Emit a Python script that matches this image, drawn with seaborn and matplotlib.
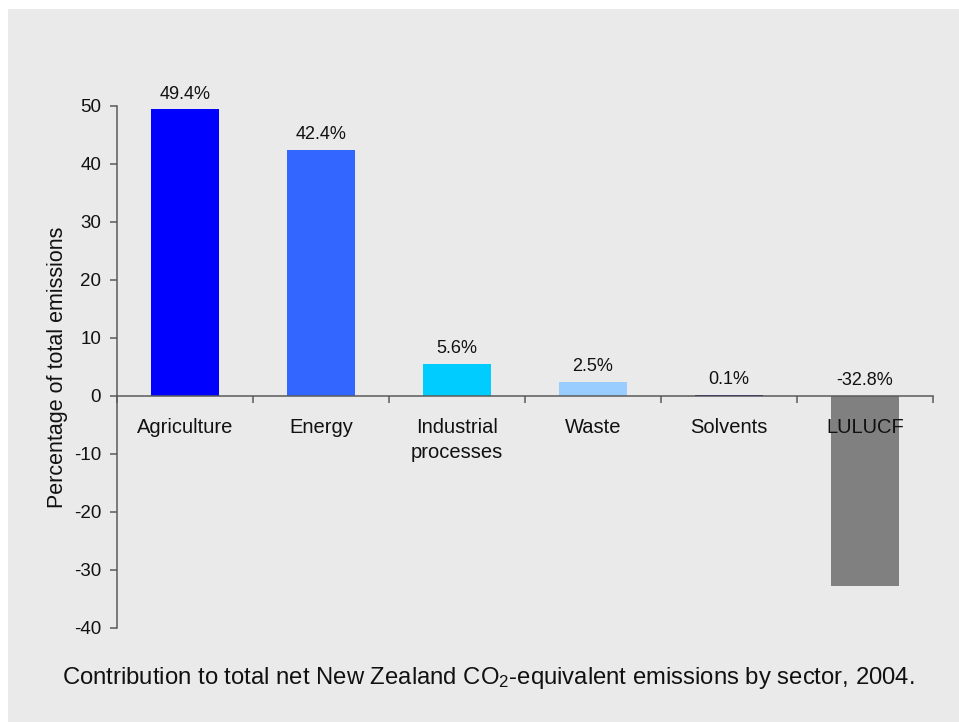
import matplotlib
matplotlib.use('Agg')
import matplotlib.pyplot as plt
import seaborn as sns
from matplotlib.patches import Rectangle

# Data
sectors = ['Agriculture', 'Energy', 'Industrial\nprocesses', 'Waste', 'Solvents', 'LULUCF']
shares = [49.4, 42.4, 5.6, 2.5, 0.1, -32.8]
share_labels = ['49.4%', '42.4%', '5.6%', '2.5%', '0.1%', '-32.8%']
bar_colors = ['#0000ff', '#3366ff', '#00ccff', '#99ccff', '#000080', '#808080']
y_ticks = [-40, -30, -20, -10, 0, 10, 20, 30, 40, 50]

sns.set_style('white')
plt.rcParams['font.family'] = ['Liberation Sans', 'DejaVu Sans']
plt.rcParams['mathtext.fontset'] = 'custom'
plt.rcParams['mathtext.rm'] = 'Liberation Sans'
plt.rcParams['mathtext.it'] = 'Liberation Sans:italic'
plt.rcParams['axes.unicode_minus'] = False

bg = '#eaeaea'
axis_col = '#5a5a5a'

fig = plt.figure(figsize=(9.59, 7.22), dpi=100, facecolor='white')
fig.patches.append(Rectangle((8 / 959, 0), 1, 1 - 9 / 722, transform=fig.transFigure,
                             facecolor=bg, edgecolor='none', zorder=-10))

W, H = 959, 722
ax = fig.add_axes([117 / W, 1 - 628 / H, (933 - 117) / W, (628 - 106) / H])
ax.set_facecolor('none')
ax.set_axisbelow(False)

sns.barplot(x=list(range(len(sectors))), y=shares, hue=list(range(len(sectors))),
            palette=bar_colors, legend=False, width=0.5, saturation=1,
            native_scale=True, linewidth=0, ax=ax)

ax.set_xlim(-0.5, len(sectors) - 0.5)
ax.set_ylim(-40, 50)
ax.set_yticks(y_ticks)

for i, (v, lab) in enumerate(zip(shares, share_labels)):
    ax.annotate(lab, (i, max(v, 0)), xytext=(0, 5), textcoords='offset points',
                ha='center', va='bottom', fontsize=13, color='#111111')

# x axis at zero with boundary ticks, category labels as minor ticks
ax.spines['bottom'].set_position(('data', 0))
ax.spines['top'].set_visible(False)
ax.spines['right'].set_visible(False)
for s in ['bottom', 'left']:
    ax.spines[s].set_color(axis_col)
    ax.spines[s].set_linewidth(1.1)

ax.set_xticks([i - 0.5 for i in range(len(sectors) + 1)])
ax.set_xticklabels([])
ax.set_xticks(list(range(len(sectors))), minor=True)
ax.set_xticklabels(sectors, minor=True, fontsize=14.5, color='#111111', linespacing=1.4)
ax.tick_params(axis='x', which='major', direction='out', length=5, width=1.1,
               color=axis_col, bottom=True)
ax.tick_params(axis='x', which='minor', length=0, pad=16)
ax.tick_params(axis='y', direction='out', length=5, width=1.1, color=axis_col,
               left=True, labelsize=13.5, labelcolor='#111111', pad=6.5)

ax.set_xlabel('')
ax.set_ylabel('Percentage of total emissions', fontsize=15.5, color='#111111', labelpad=4)

fig.text(488 / W, 1 - 678 / H,
         'Contribution to total net New Zealand CO$_2$-equivalent emissions by sector, 2004.',
         ha='center', va='center', fontsize=17.2, color='#111111')

fig.savefig('out.png', dpi=100, facecolor=fig.get_facecolor())
